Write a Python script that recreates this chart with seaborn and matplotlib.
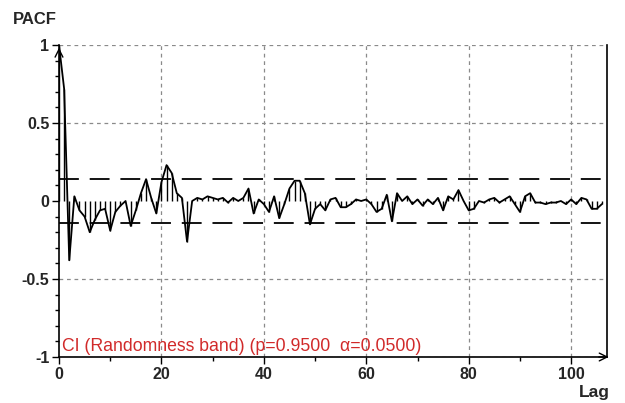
import numpy as np
import pandas as pd
import matplotlib
matplotlib.use("Agg")
import matplotlib.pyplot as plt
import seaborn as sns

lags = list(range(0, 107))
pacf = [1.00, 0.72, -0.38, 0.03, -0.06, -0.10, -0.20, -0.12, -0.06, -0.05,
        -0.19, -0.07, -0.03, 0.00, -0.16, -0.06, 0.05, 0.14, 0.02, -0.08,
        0.12, 0.23, 0.18, 0.05, 0.02, -0.26, 0.00, 0.02, 0.01, 0.03,
        0.02, 0.01, 0.02, -0.01, 0.02, 0.00, 0.02, 0.08, -0.08, 0.01,
        -0.02, -0.07, 0.03, -0.11, -0.02, 0.08, 0.13, 0.13, 0.05, -0.15,
        -0.05, -0.02, -0.06, 0.01, 0.02, -0.04, -0.04, -0.02, 0.01, 0.00,
        0.01, -0.02, -0.07, -0.05, 0.04, -0.13, 0.05, 0.00, 0.03, -0.02,
        0.01, -0.03, 0.01, -0.02, 0.02, -0.06, 0.03, 0.01, 0.07, 0.00,
        -0.06, -0.05, 0.00, -0.01, 0.01, 0.02, -0.01, 0.01, 0.03, -0.02,
        -0.07, 0.03, 0.05, -0.01, -0.01, -0.02, -0.01, -0.01, 0.00, -0.02,
        0.01, -0.02, 0.02, 0.01, -0.05, -0.05, -0.02]
ci_level = 0.14
x_ticks = [0, 20, 40, 60, 80, 100]
y_ticks = [-1, -0.5, 0, 0.5, 1]
y_ticklabels = ["-1", "-0.5", "0", "0.5", "1"]
ci_text = "CI (Randomness band) (p=0.9500  \u03b1=0.0500)"

sns.set_theme(style="white")
plt.rcParams['font.family'] = ['Liberation Sans', 'DejaVu Sans']

df = pd.DataFrame({"lag": lags, "pacf": pacf})

fig = plt.figure(figsize=(6.25, 4.03), dpi=100)
ax = fig.add_axes([59/625, 1-357/403, (607-59)/625, (357-45)/403])

# stems
ax.vlines(df["lag"], 0, df["pacf"], color="black", lw=1.0)
sns.lineplot(data=df, x="lag", y="pacf", ax=ax, color="black", lw=1.3)

# CI band
for lvl in (ci_level, -ci_level):
    ax.axhline(lvl, color="black", lw=1.3, dashes=(11, 6))

ax.set_xlim(0, 107)
ax.set_ylim(-1, 1)

# grid
for gx in x_ticks[1:]:
    ax.axvline(gx, color="#8a8a8a", lw=0.9, dashes=(3, 3), zorder=0)
for gy in [1, 0.5, -0.5, -1]:
    ax.axhline(gy, color="#8a8a8a", lw=0.9, dashes=(3, 3), zorder=0)

ax.set_xticks(x_ticks)
ax.set_xticklabels([str(t) for t in x_ticks], fontweight="bold", fontsize=11.5)
ax.set_yticks(y_ticks)
ax.set_yticklabels(y_ticklabels, fontweight="bold", fontsize=11.5)
ax.set_xticks(np.arange(10, 107, 10)[::2], minor=True)
ax.set_yticks(np.arange(-1, 1.01, 0.1), minor=True)
ax.tick_params(axis="both", which="major", direction="out", length=5, width=1,
               color="black", pad=2, bottom=True, left=True)
ax.tick_params(axis="y", which="minor", direction="out", length=3, width=1,
               color="black", left=True)
ax.tick_params(axis="x", which="minor", direction="out", length=3, width=1,
               color="black", bottom=True)

ax.set_xlabel("")
ax.set_ylabel("")
ax.spines["top"].set_visible(False)
for s in ["left", "bottom", "right"]:
    ax.spines[s].set_color("black")
    ax.spines[s].set_linewidth(1.2)

# arrows on axes ends
ax.annotate("", xy=(0, 1.0), xytext=(0, 0.97), xycoords="axes fraction",
            arrowprops=dict(arrowstyle="->", color="black", lw=1, mutation_scale=14),
            annotation_clip=False)
ax.annotate("", xy=(1.008, 0), xytext=(0.98, 0), xycoords="axes fraction",
            arrowprops=dict(arrowstyle="->", color="black", lw=1, mutation_scale=14),
            annotation_clip=False)

fig.text(13/625, 1-20/403, "PACF", fontweight="bold", fontsize=12, va="center", ha="left")
fig.text(610/625, 1-392/403, "Lag", fontweight="bold", fontsize=12.5, va="center", ha="right")
ax.text(0.6, -0.985, ci_text, color="#d12a2a", fontsize=12.7, va="bottom", ha="left")

fig.savefig("out.png", dpi=100, facecolor="white")
